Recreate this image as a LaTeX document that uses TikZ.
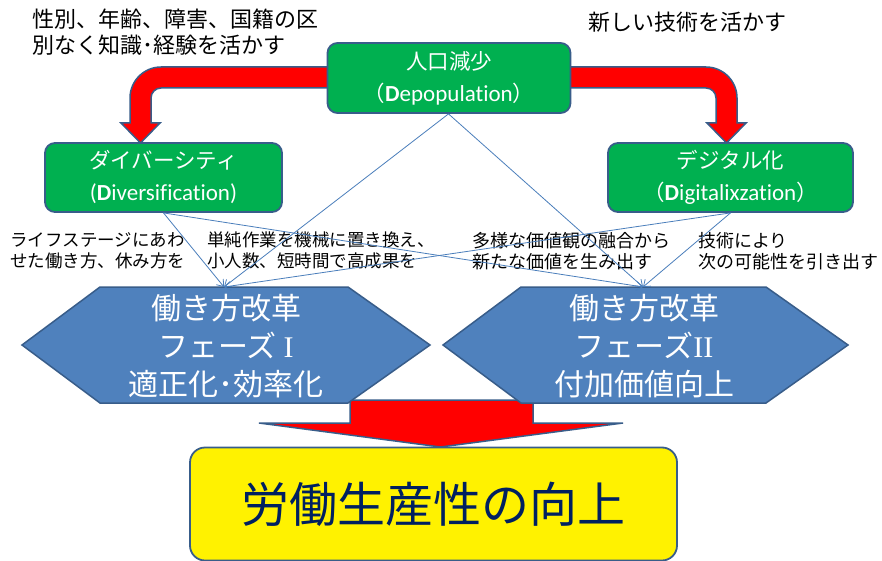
\documentclass[tikz,border=0pt]{standalone}
\usepackage{fontspec}
\setmainfont{Noto Sans CJK JP}
\newfontfamily\lat[Ligatures=NoCommon]{Carlito}
\newfontfamily\romnum{Liberation Serif}
\usetikzlibrary{arrows.meta}
\definecolor{bordblue}{HTML}{385D8A}
\definecolor{boxgreen}{HTML}{00B050}
\definecolor{hexblue}{HTML}{4F81BD}
\definecolor{linkblue}{HTML}{4A7EBB}
\definecolor{navy}{HTML}{002060}
\tikzset{
  greenbox/.style={draw=bordblue, line width=1.8pt, fill=boxgreen, rounded corners=10pt,
    text=white, align=center, inner sep=0pt, font=\fontsize{21.5}{32}\selectfont},
  hexbox/.style={draw=bordblue, line width=1.5pt, fill=hexblue},
  hextext/.style={text=white, align=center, inner sep=0pt, font=\fontsize{30}{38}\selectfont},
  redarrow/.style={draw=bordblue, line width=1.5pt, fill=red},
  goalbox/.style={draw=bordblue, line width=1.8pt, fill=yellow, rounded corners=15pt,
    text=navy, inner sep=0pt, font=\fontsize{48}{56}\selectfont},
  note/.style={anchor=north west, align=left, inner sep=0pt, text=black},
  link/.style={draw=linkblue, line width=0.8pt, -{Straight Barb[length=6pt,width=9pt]}}
}
\begin{document}
\begin{tikzpicture}[x=1pt, y=-1pt]
\useasboundingbox (0,0) rectangle (882,561);
\fill[white] (0,0) rectangle (882,561);

% bent red arrows
\path[redarrow] (330,67) -- (161,67) .. controls (143.9,67) and (130,80.9) .. (130,98)
  -- (130,123) -- (121,123) -- (140.5,143) -- (160,123) -- (151,123) -- (151,98)
  .. controls (151,92.5) and (155.5,88) .. (161,88) -- (330,88) -- cycle;
\path[redarrow] (568,67) -- (706,67) .. controls (723.1,67) and (737,80.9) .. (737,98)
  -- (737,123) -- (746,123) -- (726.5,143) -- (707,123) -- (716,123) -- (716,98)
  .. controls (716,92.5) and (711.5,88) .. (706,88) -- (568,88) -- cycle;

% bottom red arrow
\path[redarrow] (350,400) -- (533,400) -- (533,423) -- (623,423) -- (440.5,447)
  -- (259,423) -- (350,423) -- cycle;

% green boxes
\node[greenbox, minimum width=243pt, minimum height=70pt] (dep) at (449,78)
  {人口減少\\（{\lat\fontsize{23}{32}\selectfont\textbf{D}epopulation}）};
\node[greenbox, minimum width=237pt, minimum height=69pt] (div) at (163.5,177.5)
  {ダイバーシティ\\{\lat\fontsize{23}{32}\selectfont(\textbf{D}iversification)}};
\node[greenbox, minimum width=245pt, minimum height=69pt] (dig) at (730.5,177.5)
  {デジタル化\\（{\lat\fontsize{23}{32}\selectfont\textbf{D}igitalixzation}）};

% hexagons
\path[hexbox] (22,345) -- (100,287) -- (348,287) -- (430,345) -- (348,403) -- (100,403) -- cycle;
\coordinate (p1top) at (224,287);
\node[hextext] (p1) at (226,346) {働き方改革\\フェーズ {\romnum I}\\適正化･効率化};
\path[hexbox] (443,345) -- (521,287) -- (766,287) -- (848,345) -- (766,403) -- (521,403) -- cycle;
\coordinate (p2top) at (643,287);
\node[hextext] (p2) at (644,346) {働き方改革\\フェーズ{\romnum II}\\付加価値向上};

% goal
\node[goalbox, minimum width=487pt, minimum height=113pt] (goal) at (433.5,504)
  {労働生産性の向上};

% notes
\node[note, font=\fontsize{22}{26}\selectfont] (n1) at (32,9)
  {性別、年齢、障害、国籍の区\\別なく知識･経験を活かす};
\node[note, font=\fontsize{22}{26}\selectfont] (n2) at (588,12) {新しい技術を活かす};
\node[note, font=\fontsize{17.5}{21}\selectfont] (n3) at (10,232)
  {ライフステージにあわ\\せた働き方、休み方を};
\node[note, font=\fontsize{17.5}{21}\selectfont] (n4) at (207,232)
  {単純作業を機械に置き換え、\\小人数、短時間で高成果を};
\node[note, font=\fontsize{18}{21}\selectfont] (n5) at (472,232)
  {多様な価値観の融合から\\新たな価値を生み出す};
\node[note, font=\fontsize{18}{21}\selectfont] (n6) at (698,232)
  {技術により\\次の可能性を引き出す};

% connectors
\draw[link] ([xshift=-0.5pt]dep.south) -- (p1top);
\draw[link] ([xshift=-0.5pt]dep.south) -- (p2top);
\draw[link] (div.south) -- (p1top);
\draw[link] (div.south) -- (p2top);
\draw[link] (dig.south) -- (p1top);
\draw[link] (dig.south) -- (p2top);
\end{tikzpicture}
\end{document}
